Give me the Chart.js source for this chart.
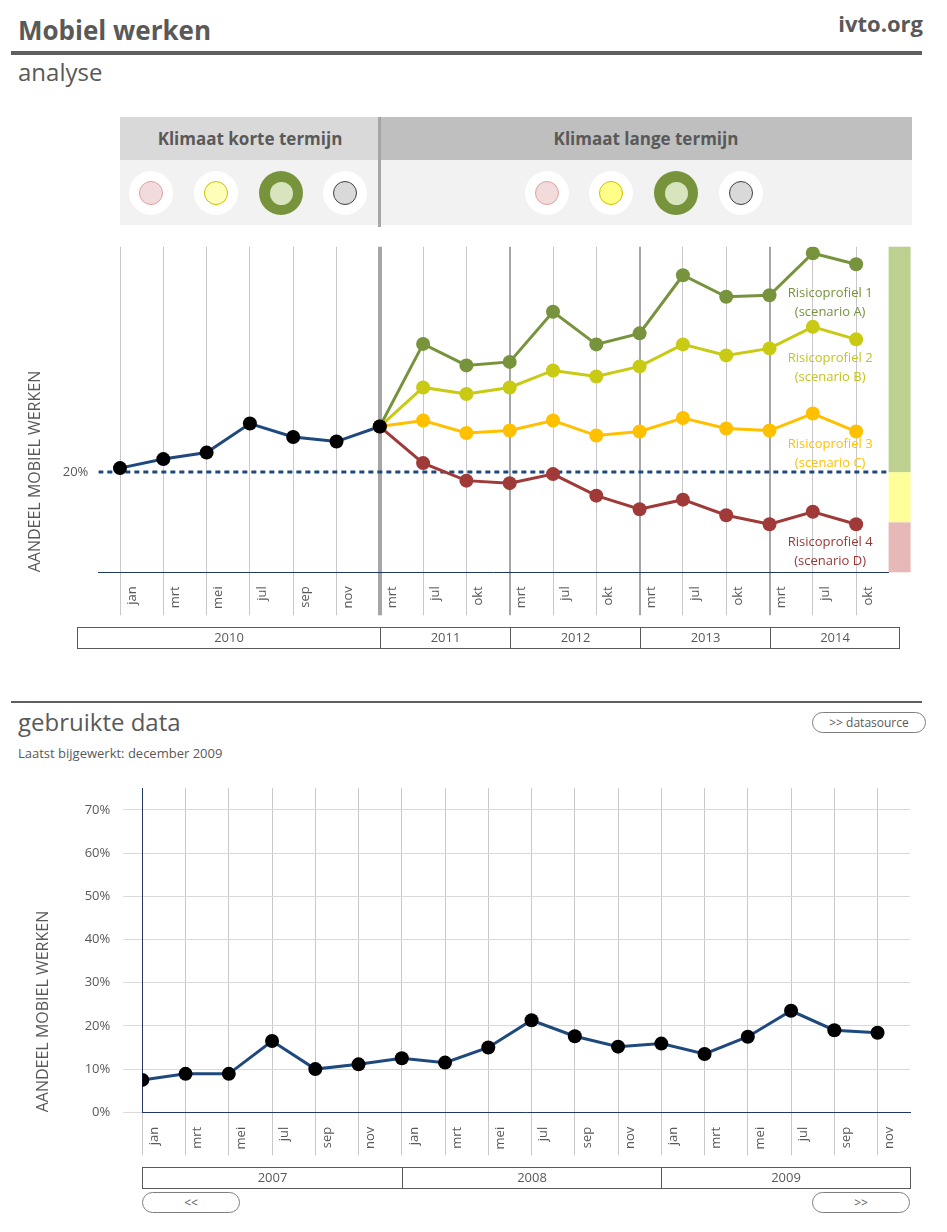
<!DOCTYPE html>
<html lang="nl">
<head>
<meta charset="utf-8">
<title>Mobiel werken</title>
<script src="https://cdn.jsdelivr.net/npm/chart.js@4.4.1/dist/chart.umd.min.js"></script>
<style>
  body { margin: 0; background: #fff; font-family: 'Open Sans', sans-serif; color: #595959; }
  #page { position: relative; width: 947px; height: 1232px; overflow: hidden; }
  .abs { position: absolute; white-space: nowrap; }
  .rule { position: absolute; background: #5f5f5f; }
  .band { position: absolute; top: 117px; height: 43px; line-height: 43px; text-align: center;
          font-weight: bold; font-size: 17px; color: #595959; }
  .dot { position: absolute; top: 171px; width: 44px; height: 44px; margin-left: -22px;
         border-radius: 50%; background: #fff; }
  .dot i { position: absolute; left: 10px; top: 10px; width: 22px; height: 22px; border-radius: 50%;
           border: 1px solid; box-sizing: content-box; }
  .dot.on { background: #77933c; }
  .dot.on i { left: 10.5px; top: 10.5px; width: 23px; height: 23px; border: 0; background: #d7e4bd; }
  .btn { position: absolute; height: 21px; line-height: 20px; border: 1px solid #7f7f7f;
         border-radius: 11px; text-align: center; font-size: 12px; color: #595959; box-sizing: border-box; }
  canvas { position: absolute; left: 0; }
</style>
</head>
<body>
<div id="page">
  <div class="abs" style="left:18px;top:15px;font-size:26px;font-weight:bold;line-height:30px;">Mobiel werken</div>
  <div class="abs" style="right:24px;top:10px;font-size:22px;font-weight:bold;line-height:26px;">ivto.org</div>
  <div class="rule" style="left:11px;top:51px;width:911px;height:4px;"></div>
  <div class="abs" style="left:18px;top:58px;font-size:24px;line-height:28px;">analyse</div>

  <!-- klimaat panel -->
  <div class="band" style="left:120px;width:260px;background:#d9d9d9;">Klimaat korte termijn</div>
  <div class="band" style="left:380px;width:532px;background:#bfbfbf;">Klimaat lange termijn</div>
  <div class="abs" style="left:120px;top:160px;width:792px;height:65px;background:#f2f2f2;"></div>
  <div class="abs" style="left:378px;top:117px;width:3px;height:110px;background:#a6a6a6;"></div>
  <div class="dot" style="left:151px"><i style="background:#f2dcdb;border-color:#d9a3a2"></i></div>
  <div class="dot" style="left:216px"><i style="background:#ffffb9;border-color:#c9c200"></i></div>
  <div class="dot on" style="left:281px"><i></i></div>
  <div class="dot" style="left:345px"><i style="background:#d9d9d9;border-color:#404040"></i></div>
  <div class="dot" style="left:547px"><i style="background:#f2dcdb;border-color:#d9a3a2"></i></div>
  <div class="dot" style="left:611px"><i style="background:#ffff88;border-color:#c9c200"></i></div>
  <div class="dot on" style="left:676px"><i></i></div>
  <div class="dot" style="left:741px"><i style="background:#d9d9d9;border-color:#404040"></i></div>

  <canvas id="analyse" width="947" height="438" style="top:222px"></canvas>

  <div class="rule" style="left:11px;top:701px;width:911px;height:2px;"></div>
  <div class="abs" style="left:18px;top:708px;font-size:24px;line-height:28px;">gebruikte data</div>
  <div class="btn" style="left:812px;top:712px;width:114px;">&gt;&gt; datasource</div>
  <div class="abs" style="left:18px;top:745px;font-size:13px;line-height:16px;">Laatst bijgewerkt: december 2009</div>

  <canvas id="data" width="947" height="429" style="top:763px"></canvas>

  <div class="btn" style="left:142px;top:1192px;width:98px;">&lt;&lt;</div>
  <div class="btn" style="left:812px;top:1192px;width:98px;">&gt;&gt;</div>
</div>

<script>
// ---- analyse (2010 - 2014) ----
const topMonths = ['jan','mrt','mei','jul','sep','nov','mrt','jul','okt','mrt','jul','okt','mrt','jul','okt','mrt','jul','okt'];
const topYears = ['2010','2011','2012','2013','2014'];
const topYearBreaks = [-1, 6, 9, 12, 15, 18];

const measured = [20.8, 22.6, 23.9, 29.7, 27.0, 26.1, 29.1, null, null, null, null, null, null, null, null, null, null, null];
const scenarioA = [null, null, null, null, null, null, 29.1, 45.6, 41.3, 42.0, 52.0, 45.5, 47.7, 59.3, 55.0, 55.3, 63.7, 61.5];
const scenarioB = [null, null, null, null, null, null, 29.1, 36.9, 35.6, 36.9, 40.3, 39.1, 41.1, 45.5, 43.3, 44.7, 49.0, 46.5];
const scenarioC = [null, null, null, null, null, null, 29.1, 30.3, 27.8, 28.3, 30.3, 27.3, 28.1, 30.8, 28.7, 28.3, 31.7, 28.1];
const scenarioD = [null, null, null, null, null, null, 29.1, 21.8, 18.3, 17.8, 19.6, 15.3, 12.6, 14.5, 11.4, 9.6, 12.1, 9.6];

const threshold = 20;
const bandEdges = [0, 10, 20, 65];
const profileNames = ['Risicoprofiel 1', 'Risicoprofiel 2', 'Risicoprofiel 3', 'Risicoprofiel 4'];
const scenarioNames = ['(scenario A)', '(scenario B)', '(scenario C)', '(scenario D)'];

// ---- gebruikte data (2007 - 2009) ----
const dataMonths = ['jan','mrt','mei','jul','sep','nov','jan','mrt','mei','jul','sep','nov','jan','mrt','mei','jul','sep','nov'];
const dataYears = ['2007','2008','2009'];
const dataYearBreaks = [0, 6, 12, 17.75];
const shareMobile = [7.5, 8.9, 8.9, 16.5, 10.0, 11.1, 12.5, 11.5, 15.0, 21.3, 17.6, 15.2, 15.9, 13.5, 17.5, 23.5, 19.0, 18.4];
const pctTicks = [0, 10, 20, 30, 40, 50, 60, 70];

Chart.defaults.font.family = "'Open Sans', sans-serif";
Chart.defaults.color = '#595959';

const GREY = '#595959';
const AXIS = '#1f3864';
const X_MIN = -0.5, X_MAX = 17.75;

function pts(vals) {
  return vals.map((v, i) => ({x: i, y: v}));
}

function yearBoxes(years, breaks) {
  return {
    id: 'yearBoxes',
    afterDraw(chart) {
      const xs = chart.scales.x, ctx = chart.ctx;
      const top = Math.round(chart.chartArea.bottom + 55) + 0.5;
      ctx.save();
      ctx.strokeStyle = GREY;
      ctx.lineWidth = 1;
      ctx.fillStyle = GREY;
      ctx.font = "13px 'Open Sans'";
      ctx.textAlign = 'center';
      ctx.textBaseline = 'middle';
      years.forEach((y, i) => {
        const a = Math.round(xs.getPixelForValue(breaks[i])) + 0.5;
        const b = Math.round(xs.getPixelForValue(breaks[i + 1])) + 0.5;
        ctx.strokeRect(a, top, b - a, 21);
        ctx.fillText(y, (a + b) / 2, top + 11);
      });
      ctx.restore();
    }
  };
}

const riskBar = {
  id: 'riskBar',
  beforeDatasetsDraw(chart) {
    const ys = chart.scales.y, ctx = chart.ctx, right = chart.chartArea.right;
    const colors = ['#e6b9b8', '#ffff99', '#bcd18f'];
    ctx.save();
    for (let i = 0; i < colors.length; i++) {
      const y1 = ys.getPixelForValue(bandEdges[i + 1]);
      const y0 = ys.getPixelForValue(bandEdges[i]);
      ctx.fillStyle = colors[i];
      ctx.fillRect(right, y1, 22, y0 - y1);
    }
    ctx.restore();
  }
};

const profileLabels = {
  id: 'profileLabels',
  afterDatasetsDraw(chart) {
    const xs = chart.scales.x, ys = chart.scales.y, ctx = chart.ctx;
    const colors = ['#76923c', '#c4c41e', '#ffc000', '#953735'];
    const spots = [53.9, 40.9, 23.7, 4.1];
    const x = xs.getPixelForValue(16.4);
    ctx.save();
    ctx.font = "13px 'Open Sans'";
    ctx.textAlign = 'center';
    ctx.textBaseline = 'middle';
    profileNames.forEach((n, i) => {
      const y = ys.getPixelForValue(spots[i]);
      ctx.fillStyle = colors[i];
      ctx.fillText(n, x, y - 9.5);
      ctx.fillText(scenarioNames[i], x, y + 9.5);
    });
    ctx.restore();
  }
};

function lineSet(vals, color, order, r) {
  return {
    data: pts(vals),
    borderColor: color,
    backgroundColor: color,
    borderWidth: 3,
    pointRadius: r,
    pointBorderWidth: 0,
    pointBackgroundColor: color,
    order: order
  };
}

const blueSet = lineSet(measured, '#1f497d', 0, 7);
blueSet.pointBackgroundColor = '#000';

new Chart('analyse', {
  type: 'line',
  data: {
    datasets: [
      blueSet,
      lineSet(scenarioD, '#a03a38', 2, 7),
      lineSet(scenarioC, '#ffc000', 3, 7),
      lineSet(scenarioB, '#c8ca14', 4, 7),
      lineSet(scenarioA, '#77933c', 5, 7),
      {
        data: [{x: X_MIN, y: threshold}, {x: X_MAX, y: threshold}],
        borderColor: '#1f497d',
        borderWidth: 3,
        borderDash: [5, 4],
        pointRadius: 0,
        order: 10
      }
    ]
  },
  options: {
    responsive: false,
    animation: false,
    layout: {padding: {top: 24.7, right: 58.4, bottom: 0, left: 0}},
    plugins: {legend: {display: false}, tooltip: {enabled: false}},
    scales: {
      x: {
        type: 'linear',
        min: X_MIN,
        max: X_MAX,
        afterBuildTicks: s => { s.ticks = topMonths.map((m, i) => ({value: i})); },
        afterFit: s => { s.height = 87.7; },
        grid: {
          tickLength: 43,
          color: c => (c.index === 6 || c.index % 3 === 0 && c.index > 6) ? '#a6a6a6' : '#c8c8c8',
          lineWidth: c => c.index === 6 ? 4 : (c.index % 3 === 0 && c.index > 6 ? 2 : 1)
        },
        border: {color: AXIS, width: 1},
        ticks: {
          autoSkip: false, minRotation: 90, maxRotation: 90,
          labelOffset: 12, padding: -29,
          font: {size: 13}, color: GREY,
          callback: v => topMonths[v]
        }
      },
      y: {
        min: 0,
        max: 65,
        afterBuildTicks: s => { s.ticks = [{value: threshold}]; },
        afterFit: s => { s.width = 98.35; },
        grid: {display: false, drawTicks: false},
        border: {display: false},
        ticks: {padding: 10, font: {size: 13}, color: GREY, callback: v => v + '%'},
        title: {
          display: true, text: 'AANDEEL MOBIEL WERKEN', align: 'start',
          color: GREY, font: {size: 16, lineHeight: 1}, padding: {top: 27, bottom: 0}
        }
      }
    }
  },
  plugins: [riskBar, profileLabels, yearBoxes(topYears, topYearBreaks)]
});

const shareSet = lineSet(shareMobile, '#1f497d', 0, 7);
shareSet.pointBackgroundColor = '#000';

new Chart('data', {
  type: 'line',
  data: {datasets: [shareSet]},
  options: {
    responsive: false,
    animation: false,
    layout: {padding: {top: 25.3, right: 37, bottom: 0, left: 0}},
    plugins: {legend: {display: false}, tooltip: {enabled: false}},
    scales: {
      x: {
        type: 'linear',
        min: 0,
        max: X_MAX,
        afterBuildTicks: s => { s.ticks = dataMonths.map((m, i) => ({value: i})); },
        afterFit: s => { s.height = 79.7; },
        grid: {tickLength: 43, color: '#c8c8c8'},
        border: {color: AXIS, width: 1},
        ticks: {
          autoSkip: false, minRotation: 90, maxRotation: 90,
          labelOffset: 12, padding: -28.5,
          font: {size: 13}, color: GREY,
          callback: v => dataMonths[v]
        }
      },
      y: {
        min: 0,
        max: 75,
        afterBuildTicks: s => { s.ticks = pctTicks.map(v => ({value: v})); },
        afterFit: s => { s.width = 142.3; },
        grid: {tickLength: 19, color: '#d9d9d9'},
        border: {color: AXIS, width: 1},
        ticks: {padding: 13, font: {size: 13}, color: GREY, callback: v => v + '%'},
        title: {
          display: true, text: 'AANDEEL MOBIEL WERKEN', align: 'start',
          color: GREY, font: {size: 16, lineHeight: 1}, padding: {top: 35, bottom: 0}
        }
      }
    }
  },
  plugins: [yearBoxes(dataYears, dataYearBreaks)]
});
</script>
</body>
</html>
